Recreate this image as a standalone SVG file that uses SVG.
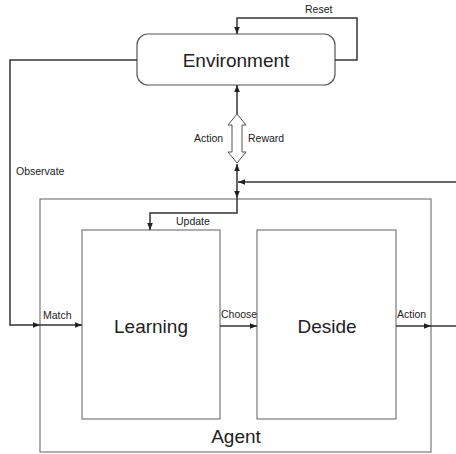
<svg xmlns="http://www.w3.org/2000/svg" width="456" height="454" viewBox="0 0 456 454">
<defs>
<marker id="ah" viewBox="0 0 10 10" refX="10" refY="5" markerWidth="7" markerHeight="7" markerUnits="userSpaceOnUse" orient="auto"><path d="M0,1 L10,5 L0,9 z" fill="#222"/></marker>
</defs>
<style>
.box{fill:#fff;stroke:#7a7a7a;stroke-width:1.2}
.ln{fill:none;stroke:#333;stroke-width:1.5}
.big{font-family:"Liberation Sans",Arial,sans-serif;font-size:19px;fill:#222;text-anchor:middle}
.sm{font-family:"Liberation Sans",Arial,sans-serif;font-size:10.5px;fill:#222}
</style>
<rect width="456" height="454" fill="#fff"/>
<g id="agent"><rect class="box" x="40" y="199" width="391" height="253"/><text class="big" x="236" y="443">Agent</text></g>
<g id="environment"><rect class="box" x="137" y="34" width="198" height="51" rx="11" style="stroke:#555"/><text class="big" x="236" y="67">Environment</text></g>
<g id="learning"><rect class="box" x="82" y="230" width="138" height="189"/><text class="big" x="151" y="333">Learning</text></g>
<g id="deside"><rect class="box" x="257" y="230" width="139" height="189"/><text class="big" x="327" y="333">Deside</text></g>
<g id="connectors">
<path class="ln" d="M335,60 H357 V18 H237 V34" marker-end="url(#ah)"/>
<text class="sm" x="305" y="13">Reset</text>
<path class="ln" d="M137,60 H10 V325 H40" marker-end="url(#ah)"/>
<text class="sm" x="16" y="175">Observate</text>
<path class="ln" d="M40,325 H82" marker-end="url(#ah)"/>
<text class="sm" x="43" y="319">Match</text>
<path class="ln" d="M220,326 H257" marker-end="url(#ah)"/>
<text class="sm" x="221" y="318">Choose</text>
<path class="ln" d="M396,326 H431" marker-end="url(#ah)"/>
<path class="ln" d="M431,326 H456"/>
<text class="sm" x="397" y="318">Action</text>
<path class="ln" d="M237,114 V85" marker-end="url(#ah)"/>
<path d="M237,114 L246,125 H242 V152 H246 L237,163 L228,152 H232 V125 H228 Z" fill="#fff" stroke="#555" stroke-width="1"/>
<text class="sm" x="194" y="142">Action</text>
<text class="sm" x="248" y="142">Reward</text>
<path class="ln" d="M237,182 V164" marker-end="url(#ah)"/>
<path class="ln" d="M237,182 V198" marker-end="url(#ah)"/>
<path class="ln" d="M456,182 H238" marker-end="url(#ah)"/>
<path class="ln" d="M237,198 V213 H150 V230" marker-end="url(#ah)"/>
<text class="sm" x="176" y="225">Update</text>
</g>
</svg>
